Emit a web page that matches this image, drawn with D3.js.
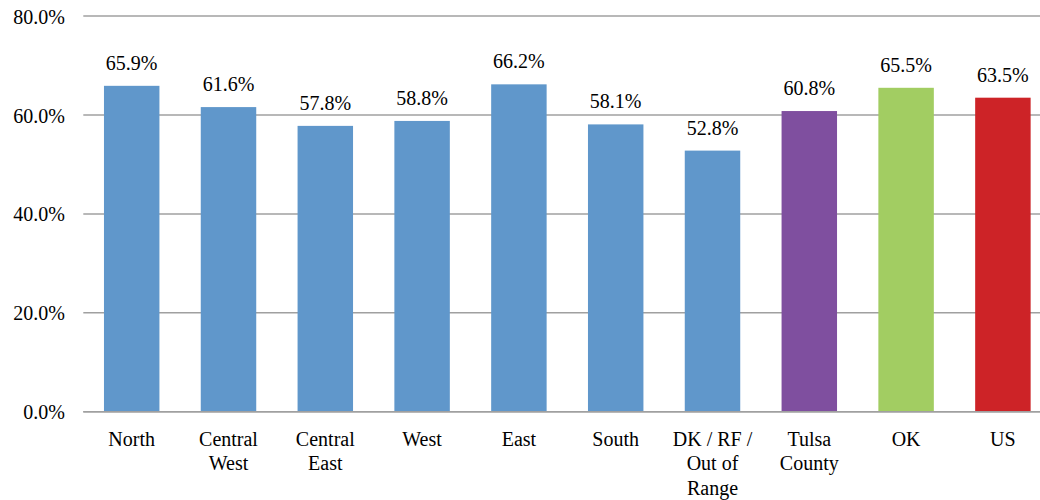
<!DOCTYPE html>
<html><head><meta charset="utf-8">
<script src="https://cdn.jsdelivr.net/npm/d3@7"></script>
<style>body{margin:0;background:#fff}svg{display:block}svg text{font-family:"Liberation Serif",Tinos,"Noto Serif","DejaVu Serif",FreeSerif,"Times New Roman",Times,serif}</style>
</head><body>
<svg id="chart" width="1040" height="500"></svg>
<script>
const categories = [["North"],["Central","West"],["Central","East"],["West"],["East"],["South"],["DK / RF /","Out of","Range"],["Tulsa","County"],["OK"],["US"]];
const values = [65.9, 61.6, 57.8, 58.8, 66.2, 58.1, 52.8, 60.8, 65.5, 63.5];
const barColors = ["#6097cb","#6097cb","#6097cb","#6097cb","#6097cb","#6097cb","#6097cb","#7f4f9f","#a2cd62","#cd2327"];
const yTicks = [0, 20, 40, 60, 80];

(function(){
const svg = d3.select("#chart");
const pLeft = 83.3, pRight = 1051.3, pTop = 16.1, pBottom = 411.7;
const keys = categories.map((c,i)=>i);
const x = d3.scaleBand().domain(keys).range([pLeft, pRight]).paddingInner(0.427).paddingOuter(0.2135);
const y = d3.scaleLinear().domain([0, 80]).range([pBottom, pTop]);

// gridlines
svg.append("g").selectAll("line").data(yTicks).join("line")
  .attr("x1", pLeft).attr("x2", 1040)
  .attr("y1", d=>y(d)).attr("y2", d=>y(d))
  .attr("stroke", "#a0a0a0").attr("stroke-width", 1.5);

// y labels
svg.append("g").selectAll("text").data(yTicks).join("text")
  .attr("x", 65).attr("y", d=>y(d)+7.5)
  .attr("text-anchor","end")
  .attr("font-size","20px").attr("fill","#000")
  .text(d=>d3.format(".1f")(d)+"%");

// bars
svg.append("g").selectAll("rect").data(values).join("rect")
  .attr("x", (d,i)=>x(i)).attr("width", x.bandwidth())
  .attr("y", d=>y(d)).attr("height", d=>y(0)-y(d))
  .attr("fill", (d,i)=>barColors[i]);

// baseline on top
svg.append("line").attr("x1", pLeft).attr("x2", 1040).attr("y1", y(0)).attr("y2", y(0))
  .attr("stroke", "#a0a0a0").attr("stroke-width", 1.5);

// value labels
svg.append("g").selectAll("text").data(values).join("text")
  .attr("x", (d,i)=>x(i)+x.bandwidth()/2).attr("y", d=>y(d)-16)
  .attr("text-anchor","middle")
  .attr("font-size","20px").attr("fill","#000")
  .text(d=>d3.format(".1f")(d)+"%");

// category labels
const cl = svg.append("g").selectAll("text").data(categories).join("text")
  .attr("x", (d,i)=>x(i)+x.bandwidth()/2).attr("y", 446)
  .attr("text-anchor","middle")
  .attr("font-size","20px").attr("fill","#000");
cl.selectAll("tspan").data(d=>d).join("tspan")
  .attr("x", function(){return d3.select(this.parentNode).attr("x");})
  .attr("dy", (d,j)=>j===0?0:24.3)
  .text(d=>d);
})();
</script>
</body></html>
